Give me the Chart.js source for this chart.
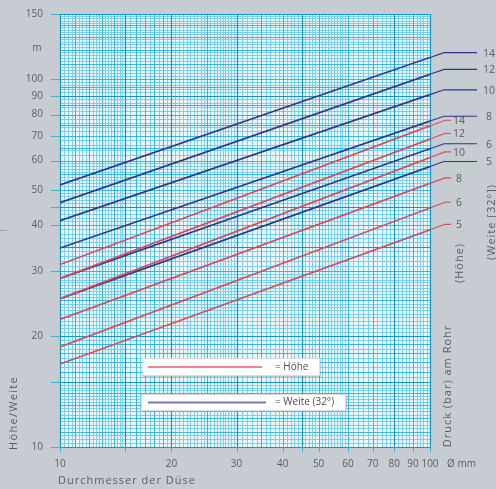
<!DOCTYPE html>
<html>
<head>
<meta charset="utf-8">
<script src="https://cdn.jsdelivr.net/npm/chart.js@4.4.1/dist/chart.umd.min.js"></script>
<style>
  html, body { margin: 0; padding: 0; background: #c6ccd2; }
  #wrap { width: 496px; height: 489px; position: relative; }
</style>
</head>
<body>
<div id="wrap"><canvas id="chart"></canvas></div>
<script>
// Druck (bar) am Rohr
const pressures = [14, 12, 10, 8, 6, 5];
// Düsendurchmesser (mm) at which the values were read
const diameters = [10, 100];
// Höhe (m)
const hoeheAt10 = [31.3, 28.7, 25.3, 22.2, 18.7, 16.8];
const hoeheAt100 = [74.5, 68.6, 61.1, 52.0, 44.6, 38.9];
// Weite (32°) (m)
const weiteAt10 = [51.5, 46.1, 41.2, 34.7, 28.7, 25.3];
const weiteAt100 = [114.3, 102.9, 90.6, 76.8, 64.6, 57.8];

const xTicks = [10, 20, 30, 40, 50, 60, 70, 80, 90, 100];
const yTicks = [10, 20, 30, 40, 50, 60, 70, 80, 90, 100, 150];

const RED = "#d64c5a";
const BLUE = "#2f3785";
const FONT = "'Open Sans', sans-serif";
const TEXT = "#5a5d62";

Chart.defaults.font.family = FONT;

function makeSet(kind, i, lo, hi) {
  return {
    label: (kind === "hoehe" ? "Höhe " : "Weite ") + pressures[i],
    kind: kind,
    bar: pressures[i],
    data: [
      { x: diameters[0], y: lo[i] },
      { x: diameters[1], y: hi[i] },
    ],
    showLine: true,
    borderColor: kind === "hoehe" ? RED : BLUE,
    borderWidth: 1.7,
    pointRadius: 0,
    fill: false,
  };
}

const datasets = [];
pressures.forEach((p, i) => datasets.push(makeSet("hoehe", i, hoeheAt10, hoeheAt100)));
pressures.forEach((p, i) => datasets.push(makeSet("weite", i, weiteAt10, weiteAt100)));

function steps(ranges) {
  const out = [];
  ranges.forEach(([a, b, s]) => {
    for (let v = a; v <= b + 1e-9; v += s) out.push(v);
  });
  return out;
}

// log paper background
const paper = {
  id: "paper",
  beforeDatasetsDraw(chart) {
    const { ctx, chartArea: a, scales } = chart;
    const sx = scales.x, sy = scales.y;
    ctx.save();
    ctx.fillStyle = "#eaf8fd";
    ctx.fillRect(a.left, a.top, a.right - a.left, a.bottom - a.top);

    const vLine = (v, color, w) => {
      const x = Math.round(sx.getPixelForValue(v)) + 0.5;
      ctx.strokeStyle = color; ctx.lineWidth = w;
      ctx.beginPath(); ctx.moveTo(x, a.top); ctx.lineTo(x, a.bottom); ctx.stroke();
    };
    const hLine = (v, color, w) => {
      const y = Math.round(sy.getPixelForValue(v)) + 0.5;
      ctx.strokeStyle = color; ctx.lineWidth = w;
      ctx.beginPath(); ctx.moveTo(a.left, y); ctx.lineTo(a.right, y); ctx.stroke();
    };

    const fineCol = "#7ccfe9";
    steps([[10, 15, 0.25], [15, 30, 0.5], [30, 60, 1], [60, 100, 2]]).forEach(v => vLine(v, fineCol, 1));
    steps([[10, 15, 0.25], [15, 30, 0.5], [30, 60, 1], [60, 150, 2]]).forEach(v => hLine(v, fineCol, 1));

    const midCol = "#38b6dc";
    steps([[10, 20, 1], [20, 50, 5], [50, 100, 10]]).forEach(v => vLine(v, midCol, 1));
    steps([[10, 20, 1], [20, 100, 5], [100, 150, 10]]).forEach(v => hLine(v, midCol, 1));

    const darkCol = "#1896c2";
    [10, 15, 20, 30, 45, 80, 100].forEach(v => vLine(v, darkCol, 1.2));
    [10, 15, 20, 35, 45, 90, 150].forEach(v => hLine(v, darkCol, 1.2));

    // outer tick marks
    ctx.strokeStyle = "#3ab3d8"; ctx.lineWidth = 1;
    yTicks.concat([15, 45]).forEach(v => {
      const y = Math.round(sy.getPixelForValue(v)) + 0.5;
      ctx.beginPath(); ctx.moveTo(a.left - 9, y); ctx.lineTo(a.left, y); ctx.stroke();
    });
    xTicks.concat([15, 45]).forEach(v => {
      const x = Math.round(sx.getPixelForValue(v)) + 0.5;
      ctx.beginPath(); ctx.moveTo(x, a.bottom); ctx.lineTo(x, a.bottom + 5); ctx.stroke();
    });
    ctx.restore();
  },
};

// line extensions, leader lines and pressure labels on the right
const leaders = {
  id: "leaders",
  afterDatasetsDraw(chart) {
    const ctx = chart.ctx;
    ctx.save();
    ctx.font = "10.5px " + FONT;
    ctx.textBaseline = "middle";
    ctx.textAlign = "center";
    chart.data.datasets.forEach((ds, i) => {
      const pts = chart.getDatasetMeta(i).data;
      const p0 = pts[0], p1 = pts[pts.length - 1];
      const slope = (p1.y - p0.y) / (p1.x - p0.x);
      const ext = ds.kind === "hoehe" ? 15 : 14;
      const ex = p1.x + ext, ey = p1.y + slope * ext;
      const endX = ds.kind === "hoehe" ? 451 : 477;
      ctx.strokeStyle = ds.borderColor;
      ctx.lineWidth = 1.1;
      ctx.beginPath();
      ctx.moveTo(p1.x, p1.y);
      ctx.lineTo(ex, ey);
      ctx.lineTo(endX, ey);
      ctx.stroke();
      ctx.fillStyle = TEXT;
      ctx.fillText(String(ds.bar), ds.kind === "hoehe" ? 459 : 489, ey + 1);
    });
    ctx.restore();
  },
};

// legend boxes and free texts
const extras = {
  id: "extras",
  afterDraw(chart) {
    const ctx = chart.ctx;
    ctx.save();
    const box = (x, y, w, h) => {
      ctx.fillStyle = "rgba(120,130,140,0.35)";
      ctx.fillRect(x + 1, y + 1, w, h);
      ctx.fillStyle = "#ffffff";
      ctx.fillRect(x, y, w, h);
      ctx.strokeStyle = "#d8dde2"; ctx.lineWidth = 1;
      ctx.strokeRect(x + 0.5, y + 0.5, w - 1, h - 1);
    };
    box(142, 358, 178, 18);
    box(141, 394, 205, 17);
    ctx.lineWidth = 1.5;
    ctx.strokeStyle = "#e0606a";
    ctx.beginPath(); ctx.moveTo(148, 367); ctx.lineTo(262, 367); ctx.stroke();
    ctx.lineWidth = 2;
    ctx.strokeStyle = "#7b7cab";
    ctx.beginPath(); ctx.moveTo(148, 402.5); ctx.lineTo(266, 402.5); ctx.stroke();
    ctx.fillStyle = "#4a4d52";
    ctx.font = "10px " + FONT;
    ctx.textBaseline = "middle";
    ctx.textAlign = "left";
    ctx.fillText("= Höhe", 275, 367.5);
    ctx.fillText("= Weite (32°)", 275, 402.5);

    ctx.fillStyle = TEXT;
    ctx.font = "11px " + FONT;
    ctx.letterSpacing = "1px";
    ctx.fillText("Durchmesser der Düse", 58, 481);
    ctx.letterSpacing = "0px";
    ctx.font = "10px " + FONT;
    ctx.fillText("Ø mm", 447, 464);
    ctx.textAlign = "center";
    ctx.fillText("m", 37, 48);

    const vText = (t, x, y, sp) => {
      ctx.save();
      ctx.translate(x, y);
      ctx.rotate(-Math.PI / 2);
      ctx.letterSpacing = sp;
      ctx.textAlign = "center";
      ctx.fillText(t, 0, 0);
      ctx.restore();
    };
    ctx.font = "11px " + FONT;
    vText("Höhe/Weite", 14, 413, "1.3px");
    vText("Druck (bar) am Rohr", 448, 386, "1px");
    vText("(Höhe)", 460, 263, "1px");
    vText("(Weite [32°])", 492, 222, "1px");

    ctx.strokeStyle = "#9aa0a6"; ctx.lineWidth = 1;
    ctx.beginPath(); ctx.moveTo(0, 230.5); ctx.lineTo(7, 230.5); ctx.stroke();
    ctx.restore();
  },
};

new Chart(document.getElementById("chart"), {
  type: "scatter",
  data: { datasets: datasets },
  options: {
    responsive: true,
    maintainAspectRatio: false,
    animation: false,
    layout: { padding: { top: 14, right: 66, left: 0, bottom: 0 } },
    plugins: { legend: { display: false }, tooltip: { enabled: false } },
    scales: {
      x: {
        type: "logarithmic",
        min: 10,
        max: 100,
        grid: { display: false, drawTicks: true, tickLength: 11 },
        border: { display: false },
        afterBuildTicks: (s) => { s.ticks = xTicks.map(v => ({ value: v })); },
        afterFit: (s) => { s.height = 42; },
        ticks: {
          autoSkip: false,
          maxRotation: 0,
          padding: 0,
          color: TEXT,
          font: { size: 10 },
          callback: (v) => String(v),
        },
      },
      y: {
        type: "logarithmic",
        min: 10,
        max: 150,
        grid: { display: false, drawTicks: true, tickLength: 17 },
        border: { display: false },
        afterBuildTicks: (s) => { s.ticks = yTicks.map(v => ({ value: v })); },
        afterFit: (s) => { s.width = 60; s.paddingTop = 0; s.paddingBottom = 0; },
        ticks: {
          autoSkip: false,
          padding: 0,
          color: TEXT,
          font: { size: 10 },
          callback: (v) => String(v),
        },
      },
    },
  },
  plugins: [paper, leaders, extras],
});
</script>
</body>
</html>
